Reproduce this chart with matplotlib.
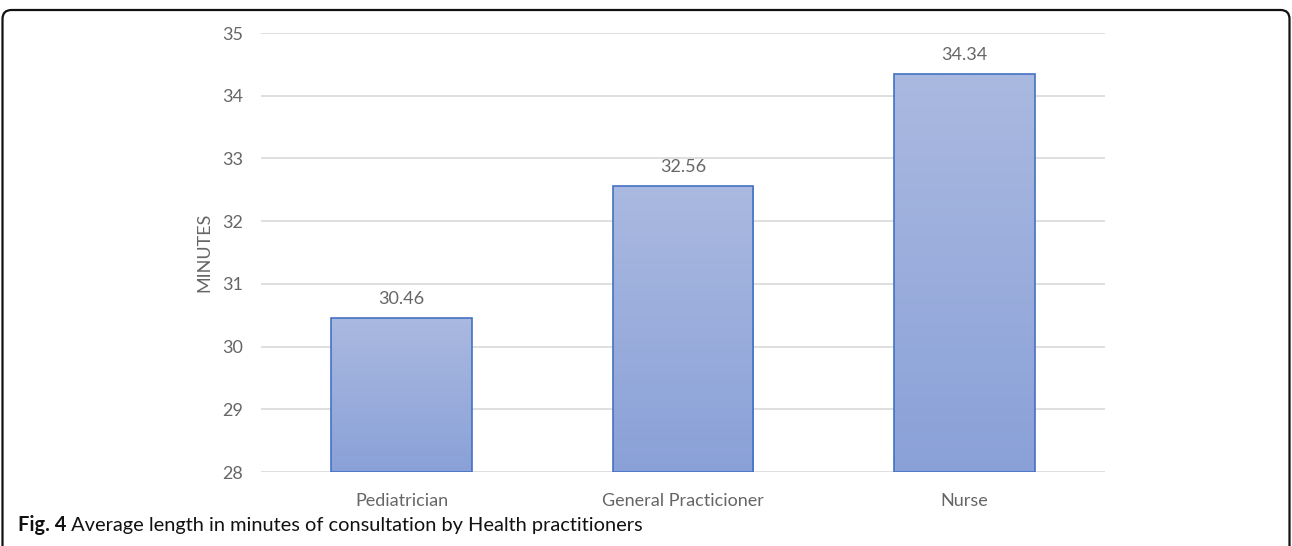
import matplotlib
matplotlib.use("Agg")
import matplotlib.pyplot as plt
import numpy as np
from matplotlib.patches import FancyBboxPatch
from matplotlib.colors import LinearSegmentedColormap

categories = ["Pediatrician", "General Practicioner", "Nurse"]
values = [30.46, 32.56, 34.34]
value_labels = ["30.46", "32.56", "34.34"]
yticks = [28, 29, 30, 31, 32, 33, 34, 35]
ylabel = "MINUTES"
caption_bold = "Fig. 4"
caption_rest = " Average length in minutes of consultation by Health practitioners"

plt.rcParams['font.family'] = ['Lato', 'DejaVu Sans']
TXT = "#666666"

fig = plt.figure(figsize=(12.92, 5.46), dpi=100)
ax = fig.add_axes([261/1292, 1-472/546, 844/1292, 439/546])

x = np.arange(len(categories))
bars = ax.bar(x, [v - 28 for v in values], bottom=28, width=0.5,
              facecolor="none", edgecolor="#4472C4", linewidth=1.2, zorder=3)

cmap = LinearSegmentedColormap.from_list("g", ["#8AA1D8", "#AAB9E0"])
grad = np.linspace(0, 1, 256).reshape(-1, 1)
for b in bars:
    x0, y0 = b.get_x(), b.get_y()
    w, h = b.get_width(), b.get_height()
    im = ax.imshow(grad, cmap=cmap, origin="lower", aspect="auto",
                   extent=[x0, x0 + w, y0, y0 + h], zorder=2)
    im.set_clip_path(b)

for xi, v, lab in zip(x, values, value_labels):
    ax.annotate(lab, (xi, v), xytext=(0, 8), textcoords="offset points",
                ha="center", va="bottom", fontsize=13, color=TXT)

ax.set_xlim(-0.5, 2.5)
ax.set_ylim(28, 35)
ax.set_yticks(yticks)
ax.set_xticks(x)
ax.set_xticklabels(categories)
ax.tick_params(axis="both", length=0, labelsize=13, colors=TXT)
ax.tick_params(axis="y", pad=13)
ax.tick_params(axis="x", pad=15)
ax.grid(axis="y", color="#D9D9D9", linewidth=1.2, zorder=0)
ax.set_axisbelow(True)
for s in ax.spines.values():
    s.set_visible(False)
ax.set_ylabel(ylabel, fontsize=13, color=TXT, labelpad=7)

frame = FancyBboxPatch((0.025, -0.5), 12.87, 5.36 + 0.5,
                       boxstyle="round,pad=0,rounding_size=0.09",
                       transform=fig.dpi_scale_trans, facecolor="none",
                       edgecolor="#111111", linewidth=1.6, clip_on=False)
fig.patches.append(frame)

t1 = fig.text(18/1292, 1-525/546, caption_bold, fontsize=14.4, fontweight="bold",
              color="#111111", va="center", ha="left")
fig.canvas.draw()
bb = t1.get_window_extent()
fig.text(bb.x1 / fig.bbox.width, 1-525/546, caption_rest, fontsize=14.4,
         color="#111111", va="center", ha="left")

fig.savefig("out.png", dpi=100)
